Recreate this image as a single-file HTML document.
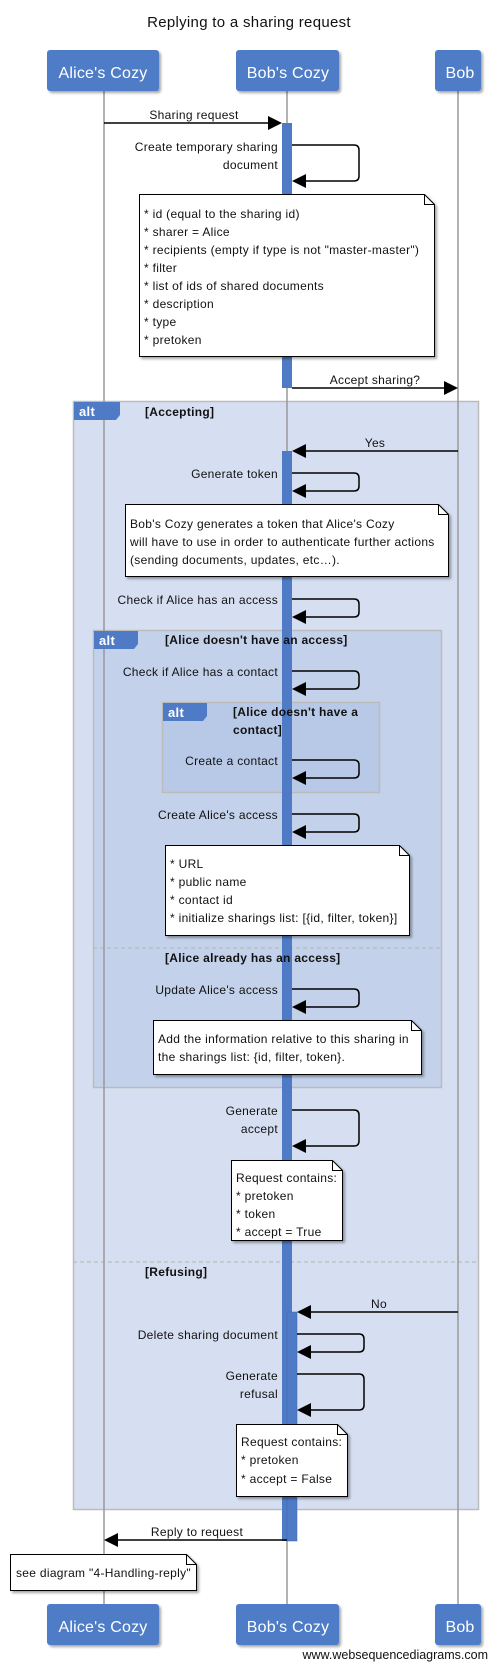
<!DOCTYPE html>
<html><head><meta charset="utf-8"><style>
body{margin:0;background:#fff}
svg{display:block}
text{font-family:"Liberation Sans","DejaVu Sans",sans-serif;font-size:12px;fill:#111;letter-spacing:0.3px}
.b{font-weight:bold}
.h{fill:#fff;font-size:16px;letter-spacing:0.2px}
</style></head><body>
<svg width="497" height="1669" viewBox="0 0 497 1669" xmlns="http://www.w3.org/2000/svg">
<defs>
<filter id="sh" x="-5%" y="-5%" width="115%" height="115%"><feDropShadow dx="2" dy="2" stdDeviation="1.2" flood-color="#000" flood-opacity="0.35"/></filter>
</defs>
<text x="249" y="27" text-anchor="middle" style="font-size:15px">Replying to a sharing request</text>

<!-- frames -->
<rect x="73.5" y="401.5" width="405" height="1108" fill="#d6dff1" stroke="#bbb" stroke-width="1.5"/>
<rect x="93.5" y="630.5" width="348" height="457" fill="#c3d1ea" stroke="#bbb" stroke-width="1.5"/>
<rect x="162.5" y="702.5" width="217" height="90" fill="#b8c9e7" stroke="#bbb" stroke-width="1.5"/>
<line x1="93" y1="948" x2="441" y2="948" stroke="#bbb" stroke-width="1.2" stroke-dasharray="4,3"/>
<line x1="73" y1="1262" x2="478" y2="1262" stroke="#bbb" stroke-width="1.2" stroke-dasharray="4,3"/>

<!-- lifelines -->
<line x1="104" y1="91" x2="104" y2="1604" stroke="#999" stroke-width="1.5"/>
<line x1="287" y1="91" x2="287" y2="1604" stroke="#999" stroke-width="1.5"/>
<line x1="458" y1="91" x2="458" y2="1604" stroke="#999" stroke-width="1.5"/>

<!-- activation bars -->
<rect x="282" y="123" width="10" height="265" fill="#4f7bc6"/>
<rect x="282" y="451" width="10" height="1090" fill="#4f7bc6"/>
<rect x="287" y="1312" width="10" height="229" fill="#4f7bc6" stroke="#3d66ad" stroke-width="0.5"/>

<!-- alt tabs -->
<path d="M74 402H120V415L116 420H74Z" fill="#4f7bc6"/><text x="79" y="416" class="b" style="fill:#fff;font-size:13px">alt</text>
<text x="145" y="416" class="b">[Accepting]</text>
<path d="M94 631H138V644L134 649H94Z" fill="#4f7bc6"/><text x="99" y="645" class="b" style="fill:#fff;font-size:13px">alt</text>
<text x="165" y="644" class="b">[Alice doesn't have an access]</text>
<path d="M163 703H207V716L203 721H163Z" fill="#4f7bc6"/><text x="168" y="717" class="b" style="fill:#fff;font-size:13px">alt</text>
<text x="233" y="716" class="b">[Alice doesn't have a</text>
<text x="233" y="734" class="b">contact]</text>
<text x="165" y="962" class="b">[Alice already has an access]</text>
<text x="145" y="1276" class="b">[Refusing]</text>

<!-- participants -->
<g filter="url(#sh)">
<rect x="47" y="50" width="112" height="41" rx="3" fill="#4f7bc6"/>
<rect x="236" y="50" width="103" height="41" rx="3" fill="#4f7bc6"/>
<rect x="435" y="50" width="46" height="41" rx="3" fill="#4f7bc6"/>
<rect x="47" y="1604" width="112" height="41" rx="3" fill="#4f7bc6"/>
<rect x="236" y="1604" width="103" height="41" rx="3" fill="#4f7bc6"/>
<rect x="435" y="1604" width="46" height="41" rx="3" fill="#4f7bc6"/>
</g>
<text x="103" y="78" text-anchor="middle" class="h">Alice's Cozy</text>
<text x="288" y="78" text-anchor="middle" class="h">Bob's Cozy</text>
<text x="460" y="78" text-anchor="middle" class="h">Bob</text>
<text x="103" y="1632" text-anchor="middle" class="h">Alice's Cozy</text>
<text x="288" y="1632" text-anchor="middle" class="h">Bob's Cozy</text>
<text x="460" y="1632" text-anchor="middle" class="h">Bob</text>

<g stroke="#000" stroke-width="1.5" fill="none">
<line x1="104" y1="123" x2="270" y2="123"/>
<line x1="292" y1="388" x2="446" y2="388"/>
<line x1="458" y1="451" x2="304" y2="451"/>
<line x1="458" y1="1312" x2="309" y2="1312"/>
<line x1="287" y1="1540" x2="116" y2="1540"/>
<path d="M292 145H354Q359 145 359 150V176Q359 181 354 181H304"/>
<path d="M292 473H354Q359 473 359 478V486Q359 491 354 491H304"/>
<path d="M292 599H354Q359 599 359 604V612Q359 617 354 617H304"/>
<path d="M292 671H354Q359 671 359 676V684Q359 689 354 689H304"/>
<path d="M292 760H354Q359 760 359 765V773Q359 778 354 778H304"/>
<path d="M292 814H354Q359 814 359 819V827Q359 832 354 832H304"/>
<path d="M292 989H354Q359 989 359 994V1002Q359 1007 354 1007H304"/>
<path d="M292 1110H354Q359 1110 359 1115V1141Q359 1146 354 1146H304"/>
<path d="M297 1334H359Q364 1334 364 1339V1347Q364 1352 359 1352H309"/>
<path d="M297 1374H359Q364 1374 364 1379V1405Q364 1410 359 1410H309"/>
</g>
<g fill="#000">
<path d="M282 123L268 116V130Z"/>
<path d="M458 388L444 381V395Z"/>
<path d="M292 451L306 444V458Z"/>
<path d="M297 1312L311 1305V1319Z"/>
<path d="M104 1540L118 1533V1547Z"/>
<path d="M292 181L306 174V188Z"/>
<path d="M292 491L306 484V498Z"/>
<path d="M292 617L306 610V624Z"/>
<path d="M292 689L306 682V696Z"/>
<path d="M292 778L306 771V785Z"/>
<path d="M292 832L306 825V839Z"/>
<path d="M292 1007L306 1000V1014Z"/>
<path d="M292 1146L306 1139V1153Z"/>
<path d="M297 1352L311 1345V1359Z"/>
<path d="M297 1410L311 1403V1417Z"/>
</g>

<text x="194" y="119" text-anchor="middle">Sharing request</text>
<text x="278" y="151" text-anchor="end">Create temporary sharing</text>
<text x="278" y="169" text-anchor="end">document</text>
<text x="375" y="384" text-anchor="middle">Accept sharing?</text>
<text x="375" y="447" text-anchor="middle">Yes</text>
<text x="278" y="478" text-anchor="end">Generate token</text>
<text x="278" y="604" text-anchor="end">Check if Alice has an access</text>
<text x="278" y="676" text-anchor="end">Check if Alice has a contact</text>
<text x="278" y="765" text-anchor="end">Create a contact</text>
<text x="278" y="819" text-anchor="end">Create Alice's access</text>
<text x="278" y="994" text-anchor="end">Update Alice's access</text>
<text x="278" y="1115" text-anchor="end">Generate</text>
<text x="278" y="1133" text-anchor="end">accept</text>
<text x="379" y="1308" text-anchor="middle">No</text>
<text x="278" y="1339" text-anchor="end">Delete sharing document</text>
<text x="278" y="1380" text-anchor="end">Generate</text>
<text x="278" y="1398" text-anchor="end">refusal</text>
<text x="197" y="1536" text-anchor="middle">Reply to request</text>

<g fill="#fff" stroke="#000" stroke-width="1" filter="url(#sh)">
<path d="M139.5 194.5H424.5L434.5 204.5V356.5H139.5Z"/>
<path d="M125.5 504.5H438.5L448.5 514.5V576.5H125.5Z"/>
<path d="M165.5 845.5H399.5L409.5 855.5V935.5H165.5Z"/>
<path d="M153.5 1020.5H411.5L421.5 1030.5V1074.5H153.5Z"/>
<path d="M231.5 1160.5H332.5L342.5 1170.5V1240.5H231.5Z"/>
<path d="M236.5 1424.5H337.5L347.5 1434.5V1496.5H236.5Z"/>
<path d="M10.5 1554.5H186.5L196.5 1564.5V1590.5H10.5Z"/>
</g>
<g fill="none" stroke="#000" stroke-width="1">
<path d="M424.5 194.5V204.5H434.5"/><path d="M438.5 504.5V514.5H448.5"/><path d="M399.5 845.5V855.5H409.5"/>
<path d="M411.5 1020.5V1030.5H421.5"/><path d="M332.5 1160.5V1170.5H342.5"/><path d="M337.5 1424.5V1434.5H347.5"/>
<path d="M186.5 1554.5V1564.5H196.5"/>
</g>
<text x="144" y="218">* id (equal to the sharing id)</text>
<text x="144" y="236">* sharer = Alice</text>
<text x="144" y="254">* recipients (empty if type is not "master-master")</text>
<text x="144" y="272">* filter</text>
<text x="144" y="290">* list of ids of shared documents</text>
<text x="144" y="308">* description</text>
<text x="144" y="326">* type</text>
<text x="144" y="344">* pretoken</text>
<text x="130" y="528">Bob's Cozy generates a token that Alice's Cozy</text>
<text x="130" y="546">will have to use in order to authenticate further actions</text>
<text x="130" y="564">(sending documents, updates, etc…).</text>
<text x="170" y="868">* URL</text>
<text x="170" y="886">* public name</text>
<text x="170" y="904">* contact id</text>
<text x="170" y="922">* initialize sharings list: [{id, filter, token}]</text>
<text x="158" y="1043">Add the information relative to this sharing in</text>
<text x="158" y="1061">the sharings list: {id, filter, token}.</text>
<text x="236" y="1182">Request contains:</text>
<text x="236" y="1200">* pretoken</text>
<text x="236" y="1218">* token</text>
<text x="236" y="1236">* accept = True</text>
<text x="241" y="1446">Request contains:</text>
<text x="241" y="1464">* pretoken</text>
<text x="241" y="1483">* accept = False</text>
<text x="16" y="1577">see diagram "4-Handling-reply"</text>

<text x="488" y="1659" text-anchor="end" style="font-size:12.5px;letter-spacing:0">www.websequencediagrams.com</text>
</svg>
</body></html>
